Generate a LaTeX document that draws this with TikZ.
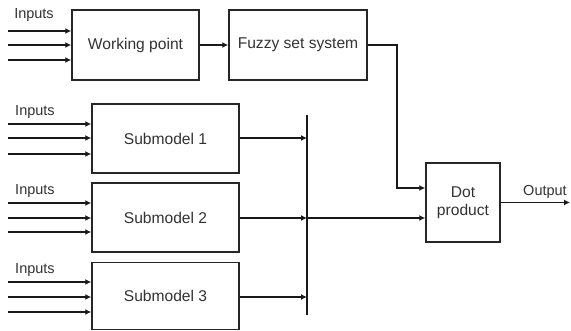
\documentclass[tikz,border=0pt]{standalone}
\usepackage{fontspec}
\setmainfont{Liberation Sans}
\usetikzlibrary{arrows.meta}
\begin{document}
\begin{tikzpicture}[x=1pt,y=-1pt,
  box/.style={draw=black!85,line width=1.5pt,fill=white,inner sep=0pt,font=\fontsize{15.6}{18}\selectfont,text=black!80,align=center},
  arr/.style={line width=1.6pt,draw=black!90,-{Latex[length=6pt,width=6pt]}},
  lbl/.style={font=\fontsize{14.5}{16}\selectfont,text=black!80,inner sep=0pt}]
\useasboundingbox (0,0) rectangle (571,331);
\node[box,minimum width=127pt,minimum height=70pt] (wp) at (135.5,45) {Working point};
\node[box,minimum width=138pt,minimum height=70pt] (fz) at (298,45) {Fuzzy set system};
\node[box,minimum width=147pt,minimum height=69pt] (s1) at (165.5,138.5) {Submodel 1};
\node[box,minimum width=147pt,minimum height=69pt] (s2) at (165.5,217.5) {Submodel 2};
\node[box,minimum width=147pt,minimum height=67pt] (s3) at (165.5,296) {Submodel 3};
\node[box,minimum width=74pt,minimum height=79pt] (dot) at (463,202.5) {Dot\\product};
% labels
\node[lbl] (l0) at (34,15) {Inputs};
\node[lbl] (l1) at (35,112) {Inputs};
\node[lbl] (l2) at (35,191) {Inputs};
\node[lbl] (l3) at (35,270) {Inputs};
\node[lbl] (lo) at (545,192) {Output};
% inputs
\foreach \y [count=\i] in {31,45,60} {
  \coordinate (a\i) at (8,\y);
  \draw[arr] (a\i) -- (wp.west |- a\i);
}
\foreach \y [count=\i] in {124,138,154} {
  \coordinate (b\i) at (8,\y);
  \draw[arr] (b\i) -- (s1.west |- b\i);
}
\foreach \y [count=\i] in {203,218,232} {
  \coordinate (c\i) at (8,\y);
  \draw[arr] (c\i) -- (s2.west |- c\i);
}
\foreach \y [count=\i] in {282,297,312} {
  \coordinate (d\i) at (8,\y);
  \draw[arr] (d\i) -- (s3.west |- d\i);
}
% top chain
\draw[arr] (wp.east) -- (fz.west);
\coordinate (fzc) at (397,188);
\draw[arr] (fz.east) -| (fzc) -- (dot.west |- fzc);
% bar
\coordinate (bt) at (307,115);
\coordinate (bb) at (307,315);
\draw[line width=2.8pt,draw=black!90] (bt) -- (bb);
\coordinate (m1) at (307,138);
\coordinate (m2) at (307,218);
\coordinate (m3) at (307,297);
\draw[arr] (s1.east |- m1) -- (m1);
\draw[arr] (s2.east |- m2) -- (m2);
\draw[arr] (s3.east |- m3) -- (m3);
\draw[arr] (m2) -- (dot.west |- m2);
% output
\coordinate (out) at (570,202.5);
\draw[arr] (dot.east) -- (out);
\end{tikzpicture}
\end{document}
